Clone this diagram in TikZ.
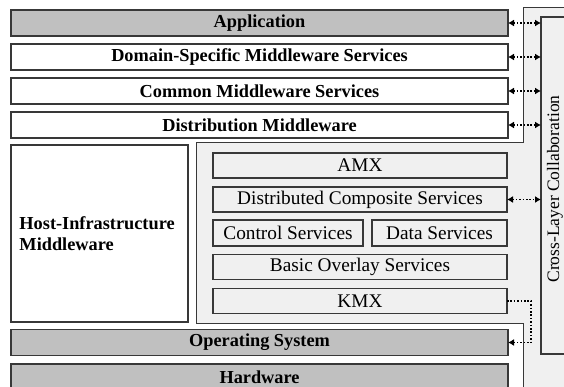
\documentclass[tikz,border=0pt]{standalone}
\usepackage{fontspec}
\setmainfont{Liberation Serif}
\usetikzlibrary{arrows.meta}
\definecolor{layergray}{HTML}{C0C0C0}
\definecolor{panelgray}{HTML}{F0F0F0}
\definecolor{edgegray}{HTML}{383838}

\begin{document}
\begin{tikzpicture}[x=1pt,y=-1pt,
  box/.style={draw=edgegray,line width=1.1pt,outer sep=0pt,inner sep=0pt,minimum height=26pt},
  layer/.style={box,minimum width=497pt,font=\fontsize{18.3}{20}\selectfont\bfseries},
  graylayer/.style={layer,fill=layergray},
  whitelayer/.style={layer,fill=white},
  service/.style={box,fill=panelgray,minimum height=25pt,font=\fontsize{19.3}{21}\selectfont},
  dots/.style={line width=1.6pt,dash pattern=on 1.6pt off 1.8pt},
  link/.style={dots,{Latex[length=6pt,width=7pt]}-{Latex[length=6pt,width=7pt]}}
]
\useasboundingbox (0,0) rectangle (564,387);
\clip (0,0) rectangle (564,387);

\filldraw[fill=panelgray,draw=edgegray,line width=1pt]
  (523,8) -- (580,8) -- (580,400) -- (523,400) -- (523,323)
  -- (196,323) -- (196,143) -- (523,143) -- cycle;

\node[graylayer] (app) at (259.5,23) {Application};
\node[whitelayer] (dsms) at (259.5,57) {Domain-Specific Middleware Services};
\node[whitelayer] (cms) at (259.5,91) {Common Middleware Services};
\node[whitelayer] (dist) at (259.5,125) {Distribution Middleware};

\node[box,fill=white,minimum width=177pt,minimum height=177pt,inner xsep=8.5pt,
  text width=160pt,align=left,font=\fontsize{18.3}{21}\selectfont\bfseries]
  (host) at (99.5,233.5) {Host-Infrastructure\\Middleware};

\node[service,minimum width=294pt] (amx) at (360,165.5) {AMX};
\node[service,minimum width=294pt] (dcs) at (360,199.5) {Distributed Composite Services};
\node[service,minimum width=150pt,minimum height=26pt] (ctrl) at (288,233) {Control Services};
\node[service,minimum width=135pt,minimum height=26pt] (data) at (439.5,233) {Data Services};
\node[service,minimum width=294pt] (bos) at (360,267) {Basic Overlay Services};
\node[service,minimum width=294pt] (kmx) at (360,301) {KMX};

\node[graylayer] (os) at (259.5,342.5) {Operating System};
\node[graylayer] (hw) at (259.5,377) {Hardware};

\node[box,fill=panelgray,minimum width=40pt,minimum height=337pt] (clc) at (561,185.5) {};
\node[rotate=90,font=\fontsize{17.5}{19}\selectfont] (clclabel) at (555,189) {Cross-Layer Collaboration};

\draw[link] (app.east) -- (app.east -| clc.west);
\draw[link] (dsms.east) -- (dsms.east -| clc.west);
\draw[link] (cms.east) -- (cms.east -| clc.west);
\draw[link] (dist.east) -- (dist.east -| clc.west);
\draw[link] (dcs.east) -- (dcs.east -| clc.west);
\draw[dots,-{Latex[length=6pt,width=7pt]}] (kmx.east) -- ++(24,0) |- (os.east);
\end{tikzpicture}
\end{document}
